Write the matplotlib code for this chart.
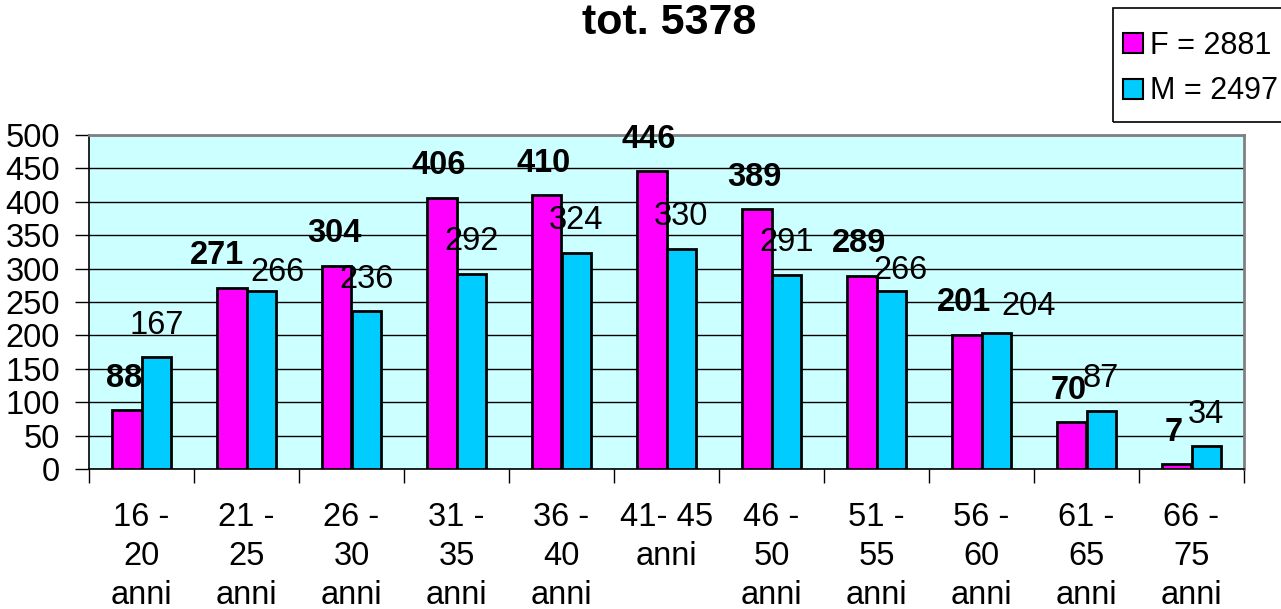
import numpy as np
import matplotlib.pyplot as plt
from matplotlib.lines import Line2D
from matplotlib.patches import Rectangle

# --- data ---
categories = ["16 -\n20\nanni", "21 -\n25\nanni", "26 -\n30\nanni", "31 -\n35\nanni",
              "36 -\n40\nanni", "41- 45\nanni", "46 -\n50\nanni", "51 -\n55\nanni",
              "56 -\n60\nanni", "61 -\n65\nanni", "66 -\n75\nanni"]
femmine = [88, 271, 304, 406, 410, 446, 389, 289, 201, 70, 7]
maschi = [167, 266, 236, 292, 324, 330, 291, 266, 204, 87, 34]
tot_f = 2881
tot_m = 2497
titolo = "tot. 5378"

# label nudges (pixels) where the original chart moved labels to avoid overlap
nudge_f = {1: (-12, 0)}
nudge_m = {1: (16, -13), 7: (9, -11), 8: (32, -6)}

col_f = "#FF00FF"
col_m = "#00CCFF"

plt.rcParams['font.family'] = ['Liberation Sans', 'DejaVu Sans']
fs = 23.5

fig = plt.figure(figsize=(12.81, 6.09), dpi=100)
ax = fig.add_axes([89 / 1281, 1 - 469 / 609, (1244 - 89) / 1281, (469 - 135) / 609])
ax.set_facecolor("#CCFFFF")

x = np.arange(len(categories))
w = 0.28
bf = ax.bar(x - w / 2, femmine, w, color=col_f, edgecolor="black", linewidth=2, zorder=3)
bm = ax.bar(x + w / 2, maschi, w, color=col_m, edgecolor="black", linewidth=2, zorder=3)

# data labels, ~32 px above the bar top
px = 0.72
for i, v in enumerate(femmine):
    dx, dy = nudge_f.get(i, (0, 0))
    ax.annotate(str(v), (x[i] - w / 2, v), xytext=(dx * px - 2, (32 - dy) * px),
                textcoords="offset points", ha="center", va="center",
                fontsize=fs, fontweight="bold", zorder=5, annotation_clip=False)
for i, v in enumerate(maschi):
    dx, dy = nudge_m.get(i, (0, 0))
    ax.annotate(str(v), (x[i] + w / 2, v), xytext=(dx * px, (32 + dy) * px),
                textcoords="offset points", ha="center", va="center",
                fontsize=fs, zorder=5, annotation_clip=False)

ax.set_xlim(-0.5, len(categories) - 0.5)
ax.set_ylim(0, 500)
ax.set_yticks(np.arange(0, 501, 50))
ax.yaxis.grid(True, color="black", linewidth=1.0, zorder=0)
ax.set_axisbelow(True)

ax.set_xticks(x)
ax.set_xticklabels(categories, fontsize=fs, linespacing=1.32)
ax.set_xticks(np.arange(-0.5, len(categories)), minor=True)
ax.tick_params(axis="x", which="major", length=0, pad=24)
ax.tick_params(axis="x", which="minor", length=10, width=1, direction="out")
ax.tick_params(axis="y", labelsize=fs, length=10, width=1, pad=11)

for s in ["top", "right"]:
    ax.spines[s].set_color("#808080")
    ax.spines[s].set_linewidth(2)
for s in ["left", "bottom"]:
    ax.spines[s].set_color("black")
    ax.spines[s].set_linewidth(1.2)

fig.text(669 / 1281, 1 - 23 / 609, titolo, ha="center", va="center",
         fontsize=31, fontweight="bold")

# legend (frame drawn separately so it can be taller than the entries need)
handles = [Line2D([], [], linestyle="none", marker="s", markersize=14,
                  markerfacecolor=col_f, markeredgecolor="black", markeredgewidth=1.5),
           Line2D([], [], linestyle="none", marker="s", markersize=14,
                  markerfacecolor=col_m, markeredgecolor="black", markeredgewidth=1.5)]
leg = fig.legend(handles, [f"F = {tot_f}", f"M = {tot_m}"], loc="upper left",
                 bbox_to_anchor=(1113 / 1281, 1 - 22 / 609), fontsize=22,
                 frameon=False, borderpad=0.3,
                 handlelength=0.7, handletextpad=0.2,
                 labelspacing=0.5, borderaxespad=0)
fig.patches.append(Rectangle((1113 / 1281, 1 - 122 / 609), 190 / 1281, 114 / 609,
                             transform=fig.transFigure, fill=False,
                             edgecolor="black", linewidth=1.2))

fig.savefig("out.png", dpi=100)
